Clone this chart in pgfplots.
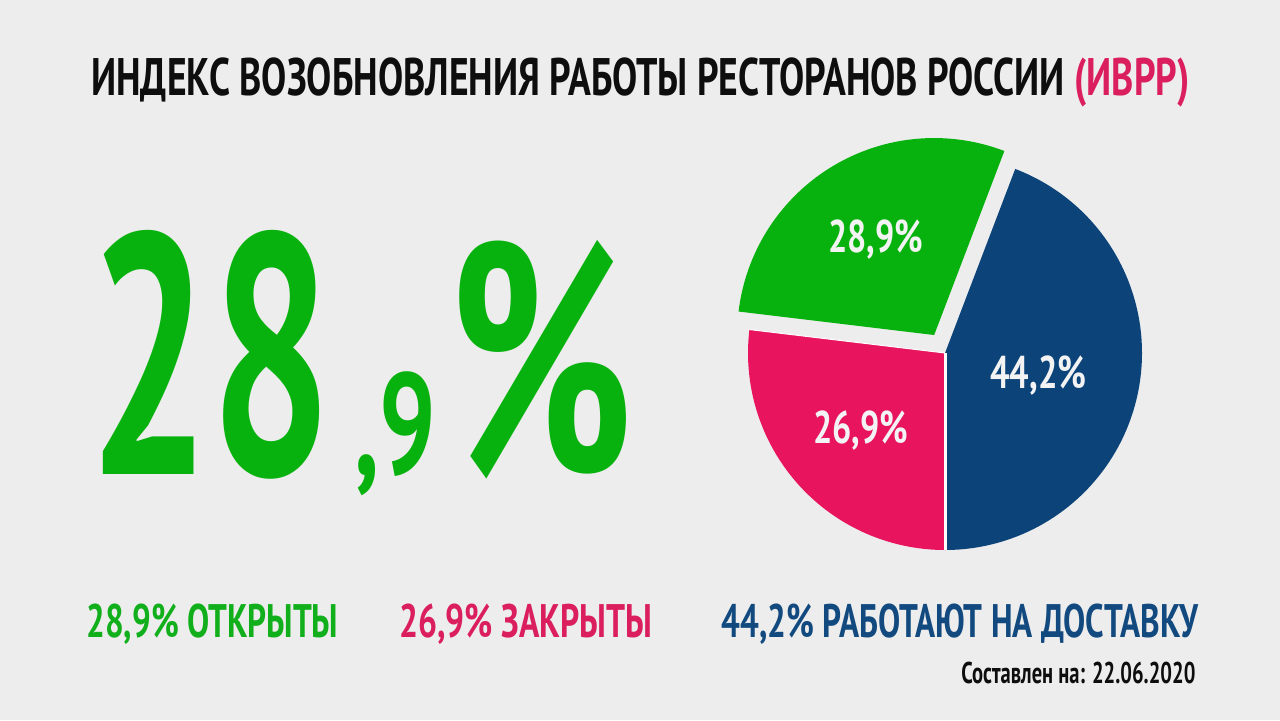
\documentclass[border=0pt]{standalone}
\usepackage{pgfplots}
\pgfplotsset{compat=1.18}
\usepackage{pgfplotstable}
\usepgfplotslibrary{polar}
\usepackage{graphicx}
\usepackage{fontspec}
\setmainfont{PT Sans}
\definecolor{bg}{HTML}{EDEDED}
\definecolor{cgreen}{HTML}{08B20E}
\definecolor{cpink}{HTML}{E8145E}
\definecolor{cblue}{HTML}{0C447A}
\definecolor{tgreen}{HTML}{12AF1C}
\definecolor{tpink}{HTML}{DA1E5E}
\definecolor{tblue}{HTML}{124A7F}
\definecolor{tblack}{HTML}{0E0E0E}
\definecolor{tlab}{HTML}{F3F3F3}
\newlength\px \setlength\px{0.5pt}
\newcommand\fitw[2]{\resizebox{#1\px}{\height}{#2}}
\pgfplotstableread{
share value
open 28.9
closed 26.9
delivery 44.2
}\piedata
\begin{document}%
\begin{tikzpicture}[x=0.5pt,y=-0.5pt]
\pgfplotstablegetelem{0}{value}\of\piedata \edef\vopen{\pgfplotsretval}
\pgfplotstablegetelem{1}{value}\of\piedata \edef\vclosed{\pgfplotsretval}
\pgfplotstablegetelem{2}{value}\of\piedata \edef\vdel{\pgfplotsretval}
\pgfmathsetmacro\aA{-90}
\pgfmathsetmacro\aB{\aA+3.6*\vdel}
\pgfmathsetmacro\aC{\aB+3.6*\vopen}
\pgfmathsetmacro\aD{\aC+3.6*\vclosed}
\pgfmathsetmacro\aMid{(\aB+\aC)/2}
\fill[bg] (0,0) rectangle (1280,720);
\begin{axis}[at={(0,0)}, anchor=north west, width=640pt, height=360pt,
  scale only axis, xmin=-945, xmax=335, ymin=-367, ymax=353,
  hide axis, clip=false]
\addplot[fill=cblue, draw=none, data cs=polar,
  domain=\aA:\aB, samples=120] {197} -- (axis cs:0,0) -- cycle;
\addplot[fill=cpink, draw=none, data cs=polar,
  domain=\aC:\aD, samples=80] {197} -- (axis cs:0,0) -- cycle;
\addplot[white, line width=1.5pt, data cs=polar] coordinates {(\aA,0) (\aA,197)};
\addplot[white, line width=0.5pt, data cs=polar] coordinates {(\aC,0) (\aC,197)};
\addplot[fill=cgreen, draw=none, data cs=polar,
  domain=\aB:\aC, samples=80,
  xshift={10.5pt*cos(\aMid)}, yshift={10.5pt*sin(\aMid)}] {197} -- (axis cs:0,0) -- cycle;
\end{axis}
% title
\node[anchor=base west, inner sep=0, text=tblack, font=\bfseries\fontsize{26.4pt}{30pt}\selectfont]
  at (91,95) {\fitw{1098}{ИНДЕКС ВОЗОБНОВЛЕНИЯ РАБОТЫ РЕСТОРАНОВ РОССИИ \textcolor{tpink}{(ИВРР)}}};
% big number
\node[anchor=base west, inner sep=0, text=cgreen, font=\bfseries\fontsize{171pt}{180pt}\selectfont]
  at (88,474) {\fitw{244}{28}};
\node[anchor=base west, inner sep=0, text=cgreen, font=\bfseries\fontsize{72pt}{80pt}\selectfont]
  at (354,474) {\fitw{82}{,9}};
\node[anchor=base west, inner sep=0, text=cgreen, font=\bfseries\fontsize{164pt}{170pt}\selectfont]
  at (448,474) {\fitw{185}{\%}};
% pie labels
\node[anchor=base west, inner sep=0, text=tlab, font=\bfseries\fontsize{22.9pt}{26pt}\selectfont]
  at (828,252) {\fitw{95}{28,9\%}};
\node[anchor=base west, inner sep=0, text=tlab, font=\bfseries\fontsize{22.9pt}{26pt}\selectfont]
  at (813,443) {\fitw{95}{26,9\%}};
\node[anchor=base west, inner sep=0, text=tlab, font=\bfseries\fontsize{22.9pt}{26pt}\selectfont]
  at (990,388) {\fitw{96}{44,2\%}};
% legend
\node[anchor=base west, inner sep=0, text=tgreen, font=\bfseries\fontsize{23.5pt}{26pt}\selectfont]
  at (86,637) {\fitw{252}{28,9\% ОТКРЫТЫ}};
\node[anchor=base west, inner sep=0, text=tpink, font=\bfseries\fontsize{23.5pt}{26pt}\selectfont]
  at (399,637) {\fitw{253}{26,9\% ЗАКРЫТЫ}};
\node[anchor=base west, inner sep=0, text=tblue, font=\bfseries\fontsize{23.5pt}{26pt}\selectfont]
  at (721,637) {\fitw{477}{44,2\% РАБОТАЮТ НА ДОСТАВКУ}};
\node[anchor=base west, inner sep=0, text=tblack, font=\bfseries\fontsize{15pt}{18pt}\selectfont]
  at (961,683) {\fitw{234}{Составлен на: 22.06.2020}};
\pgfresetboundingbox
\path (0,0) rectangle (1280,720);
\end{tikzpicture}%
\end{document}
